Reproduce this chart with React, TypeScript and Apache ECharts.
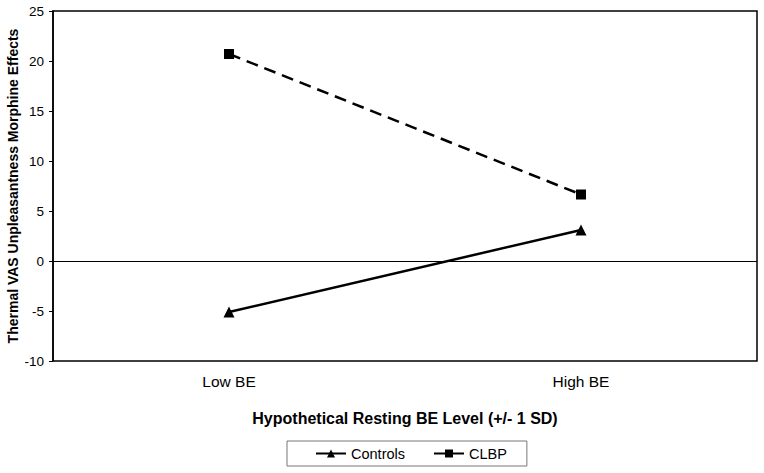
import React, { useEffect, useRef } from "react";
import * as echarts from "echarts";

const categories = ["Low BE", "High BE"];
const controls = [-5.1, 3.1];
const clbp = [20.7, 6.65];
const yTicks = { min: -10, max: 25, interval: 5 };

export default function App() {
  const ref = useRef<HTMLDivElement>(null);
  useEffect(() => {
    const chart = echarts.init(ref.current!, null, { renderer: "svg" });
    const font = "'Liberation Sans', Arial, sans-serif";
    chart.setOption({
      animation: false,
      backgroundColor: "#fff",
      textStyle: { fontFamily: font, color: "#000" },
      grid: {
        left: 53, top: 11, right: 7, bottom: 112, show: true,
        outerBoundsMode: "none", containLabel: false,
        borderColor: "#000", borderWidth: 1.5, backgroundColor: "transparent",
      },
      legend: {
        bottom: 7,
        left: 287,
        itemWidth: 30,
        itemHeight: 10,
        itemGap: 28,
        padding: [5, 20, 5, 28],
        borderColor: "#777",
        borderWidth: 1,
        textStyle: { fontFamily: font, fontSize: 14.5, color: "#000" },
        data: ["Controls", "CLBP"],
      },
      xAxis: {
        type: "category",
        data: categories,
        boundaryGap: true,
        axisLine: { show: false },
        axisTick: { show: false },
        axisLabel: { fontSize: 15.5, color: "#000", fontFamily: font, margin: 12 },
        name: "Hypothetical Resting BE Level (+/- 1 SD)",
        nameLocation: "middle",
        nameGap: 49,
        nameMoveOverlap: false,
        nameTextStyle: { fontSize: 16, fontWeight: "bold", color: "#000", fontFamily: font },
      },
      yAxis: {
        type: "value",
        min: yTicks.min,
        max: yTicks.max,
        interval: yTicks.interval,
        splitLine: { show: false },
        axisLine: { show: true, lineStyle: { color: "#000", width: 1.5 } },
        axisTick: { show: true, inside: false, length: 4, lineStyle: { color: "#000" } },
        axisLabel: { fontSize: 13.5, color: "#000", fontFamily: font, margin: 9 },
        name: "Thermal VAS Unpleasantness Morphine Effects",
        nameLocation: "middle",
        nameGap: 33,
        nameMoveOverlap: false,
        nameTextStyle: { fontSize: 14, fontWeight: "bold", color: "#000", fontFamily: font },
      },
      series: [
        {
          name: "Controls",
          type: "line",
          data: controls,
          symbol: "triangle",
          symbolSize: 11,
          itemStyle: { color: "#000" },
          lineStyle: { color: "#000", width: 2.5, type: "solid" },
          markLine: {
            silent: true,
            symbol: "none",
            label: { show: false },
            lineStyle: { color: "#000", width: 1, type: "solid" },
            data: [{ yAxis: 0 }],
          },
        },
        {
          name: "CLBP",
          type: "line",
          data: clbp,
          symbol: "rect",
          symbolSize: 10,
          itemStyle: { color: "#000" },
          lineStyle: { color: "#000", width: 2.5, type: [12, 7] },
        },
      ],
    });
    return () => chart.dispose();
  }, []);
  return <div ref={ref} style={{ width: 764, height: 473, position: "absolute", left: 0, top: 0 }} />;
}
